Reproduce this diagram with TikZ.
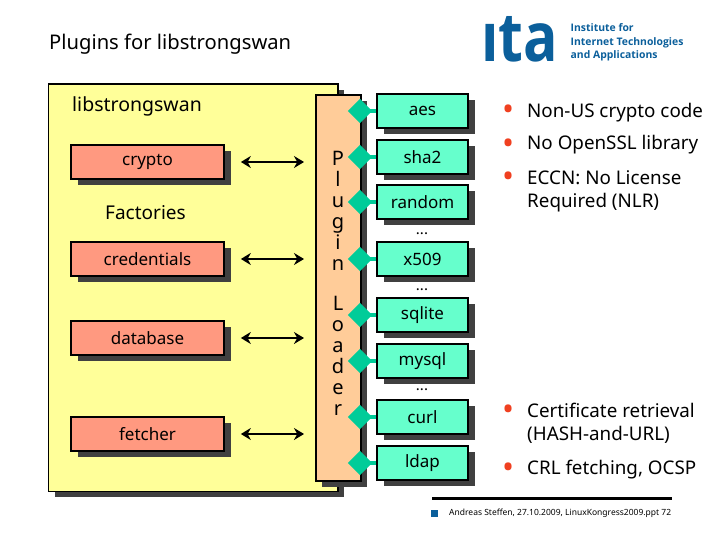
\documentclass[tikz,border=0pt]{standalone}
\usepackage{fontspec}
\setmainfont{Noto Sans}
\newfontfamily\logofont{Open Sans}
\usetikzlibrary{arrows.meta,shadows}
\definecolor{shade}{HTML}{404040}
\definecolor{yel}{HTML}{FFFF99}
\definecolor{peach}{HTML}{FFCC99}
\definecolor{salmon}{HTML}{FF9980}
\definecolor{mint}{HTML}{66FFCC}
\definecolor{jade}{HTML}{00CC99}
\definecolor{itablue}{HTML}{0B5F9B}
\definecolor{bulletred}{HTML}{F04020}
\tikzset{
  x=1pt,y=-1pt,
  boxshadow/.style={general shadow={shadow xshift=6.5pt,shadow yshift=-6pt,fill=shade,draw=none}},
  panel/.style={draw=black,line width=1.7pt,boxshadow,inner sep=0pt},
  factory/.style={panel,fill=salmon,minimum width=153pt,minimum height=34pt,font=\fontsize{17}{20}\selectfont},
  plugbox/.style={panel,fill=mint,minimum width=91pt,minimum height=34pt,font=\fontsize{17}{20}\selectfont},
  socket/.style={fill=jade,minimum size=17pt,inner sep=0pt,draw=none,shape=rectangle,rotate=45},
  stub/.style={draw=jade,line width=4pt},
  biarrow/.style={line width=2.8pt,{Stealth[length=10pt,width=12pt]}-{Stealth[length=10pt,width=12pt]},shorten <=16pt,shorten >=11pt},
  label/.style={font=\fontsize{18.8}{23}\selectfont,anchor=west,align=left,inner sep=0pt},
  bul/.style={font=\fontsize{32}{32}\selectfont,inner sep=0pt,text=bulletred},
  dots/.style={font=\fontsize{15}{15}\selectfont,inner sep=0pt,anchor=base},
  vert/.style={font=\fontsize{20}{21}\selectfont,align=center,inner sep=0pt,anchor=north},
  logotext/.style={font=\logofont\bfseries\fontsize{10.4}{13.4}\selectfont,text=itablue,anchor=west,align=left,inner sep=0pt}
}
\begin{document}
\begin{tikzpicture}
\useasboundingbox (0,0) rectangle (720,540);
% title and logo
\node[anchor=west,inner sep=0pt,font=\fontsize{20.2}{24}\selectfont] (title) at (49,44) {Plugins for libstrongswan};
\node[anchor=base west,inner sep=0pt,text=itablue,xscale=.84,font=\logofont\bfseries\fontsize{68}{68}\selectfont] (logo) at (481,61.5) {ıta};
\node[logotext] (inst) at (570.5,42.5) {Institute for\\Internet Technologies\\and Applications};
% main panels
\node[panel,fill=yel,minimum width=289.5pt,minimum height=407.5pt,anchor=north west] (lib) at (47.5,83) {};
\node[panel,fill=peach,minimum width=45pt,minimum height=386pt,anchor=north west] (loader) at (315,94) {};
\node[anchor=west,inner sep=0pt,font=\fontsize{19.5}{22}\selectfont] (libname) at (72,106) {libstrongswan};
\node[inner sep=0pt,font=\fontsize{19}{22}\selectfont] (fact) at (145.5,213) {Factories};
\node[vert] (plug) at (338,151) {P\\l\\u\\g\\i\\n};
\node[vert] (load) at (338,296) {L\\o\\a\\d\\e\\r};
% factories
\node[factory] (crypto) at (147.5,162) {crypto};
\node[factory] (cred) at (147.5,259) {credentials};
\node[factory] (db) at (147.5,338) {database};
\node[factory] (fetch) at (147.5,434) {fetcher};
\foreach \n in {crypto,cred,db,fetch}
  \draw[biarrow] (\n.east) -- (\n.east -| loader.west);
% plugins
\foreach \n/\t/\y in {aes/aes/111,sha/sha2/157,rnd/random/202,xfn/x509/259,sq/sqlite/315,my/mysql/361,cu/curl/417,ld/ldap/463}{
  \node[plugbox] (\n) at (422.5,\y) {\t};
  \node[socket] (d\n) at (360,\y) {};
  \draw[stub] (d\n.center) -- (\n.west);
}
\node[dots] (dots1) at (422,235) {...};
\node[dots] (dots2) at (422,290) {...};
\node[dots] (dots3) at (422,390) {...};
% bullets
\foreach \n/\y in {b1/113,b2/147,b3/180,b4/413,b5/471}
  \node[bul] (\n) at (509,\y) {•};
\node[label] (t1) at (527,113) {Non-US crypto code};
\node[label] (t2) at (527,145) {No OpenSSL library};
\node[label] (t3) at (527,191) {ECCN: No License\\Required (NLR)};
\node[label] (t4) at (527,423) {Certificate retrieval\\(HASH-and-URL)};
\node[label] (t5) at (527,470) {CRL fetching, OCSP};
% footer
\coordinate (fl) at (432,498);
\coordinate (fr) at (672,498);
\draw[line width=3pt] (fl) -- (fr);
\node[fill=itablue,minimum size=7pt,inner sep=0pt] (sq) at (434.5,513) {};
\node[anchor=west,inner sep=0pt,font=\fontsize{8.5}{10}\selectfont] (foot) at (449,513) {Andreas Steffen, 27.10.2009, LinuxKongress2009.ppt 72};
\end{tikzpicture}
\end{document}
